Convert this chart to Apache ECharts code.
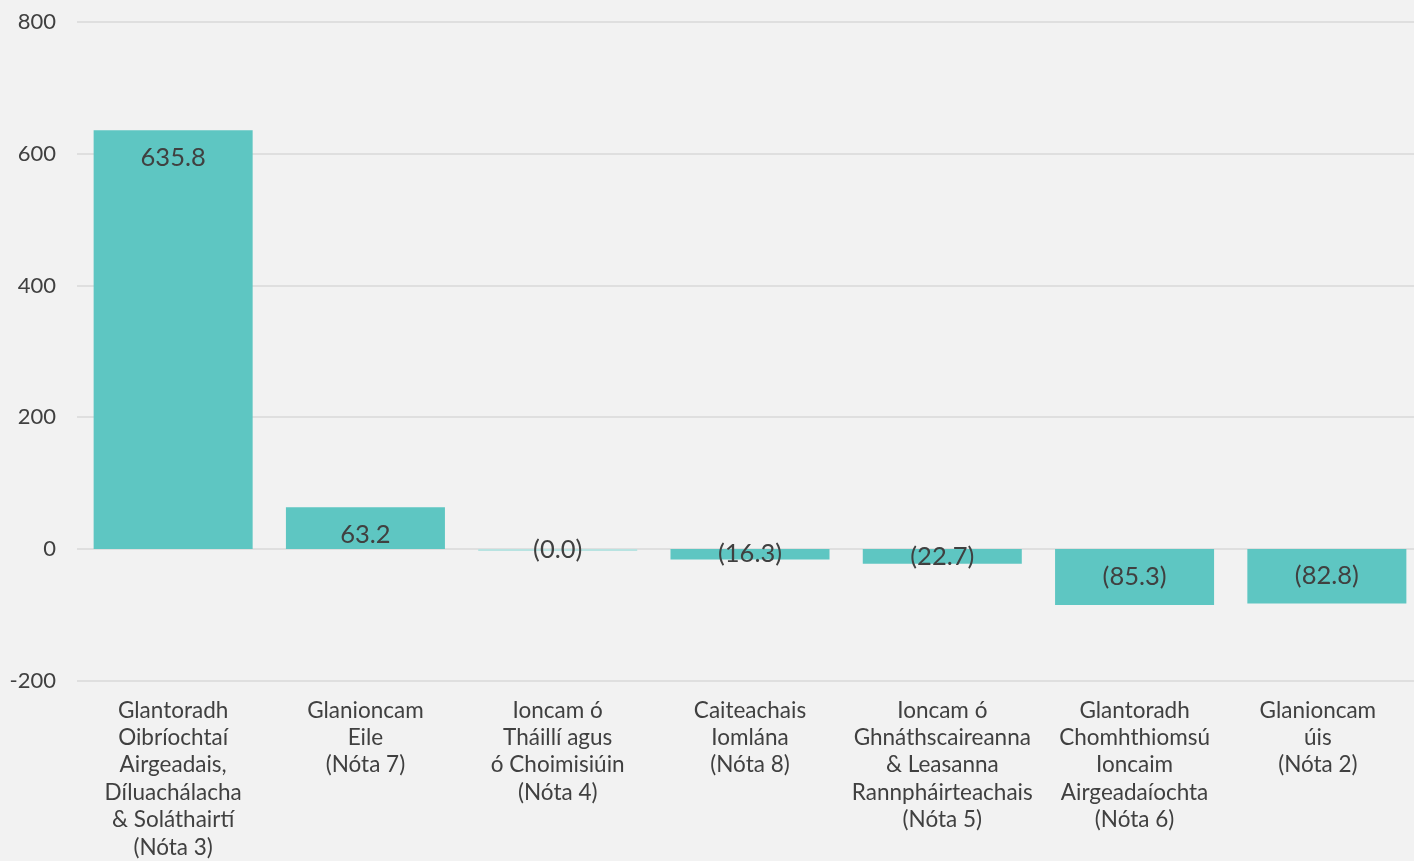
<!DOCTYPE html>
<html>
<head>
<meta charset="utf-8">
<script src="https://cdn.jsdelivr.net/npm/echarts@6/dist/echarts.min.js"></script>
<style>
  html, body { margin: 0; padding: 0; background: #f2f2f2; overflow: hidden; }
  #main { width: 1423px; height: 861px; }
</style>
</head>
<body>
<div id="main"></div>
<script>
var categories = [
    'Glantoradh\nOibríochtaí\nAirgeadais,\nDíluachálacha\n& Soláthairtí\n(Nóta 3)',
    'Glanioncam\nEile\n(Nóta 7)',
    'Ioncam ó\nTháillí agus\nó Choimisiúin\n(Nóta 4)',
    'Caiteachais\nIomlána\n(Nóta 8)',
    'Ioncam ó\nGhnáthscaireanna\n& Leasanna\nRannpháirteachais\n(Nóta 5)',
    'Glantoradh\nChomhthiomsú\nIoncaim\nAirgeadaíochta\n(Nóta 6)',
    'Glanioncam\núis\n(Nóta 2)'
];
var values = [635.8, 63.2, -0.04, -16.3, -22.7, -85.3, -82.8];
var yTicks = { min: -200, max: 800, interval: 200 };

var myChart = echarts.init(document.getElementById('main'));

// etiketí: diúltacha idir lúibíní
function fmt(v) {
    var s = Math.abs(v).toFixed(1);
    return v < 0 ? '(' + s + ')' : s;
}

var barData = values.map(function (v) {
    return {
        value: v,
        itemStyle: Math.abs(v) < 0.5 ? { color: '#b8e3e1' } : undefined,
        label: v >= 0
            ? { position: 'insideTop', distance: 15 }
            : { position: 'inside' }
    };
});

// an lipéad deireanach brúite isteach beagán, mar atá sa bhunchairt
var catData = categories.map(function (c, i) {
    return i === categories.length - 1
        ? { value: c, textStyle: { padding: [0, 18, 0, 0] } }
        : c;
});

var option = {
    backgroundColor: '#f2f2f2',
    textStyle: { fontFamily: 'Lato' },
    grid: { left: 77, right: 0, top: 22, bottom: 171 },
    xAxis: {
        type: 'category',
        data: catData,
        position: 'bottom',
        axisLine: { show: false },
        axisTick: { show: false },
        axisLabel: {
            interval: 0,
            margin: 16,
            color: '#404040',
            fontSize: 22.5,
            lineHeight: 27.4,
            fontFamily: 'Lato'
        }
    },
    yAxis: {
        type: 'value',
        min: yTicks.min,
        max: yTicks.max,
        interval: yTicks.interval,
        axisLine: { show: false },
        axisTick: { show: false },
        axisLabel: {
            margin: 21,
            color: '#404040',
            fontSize: 22,
            fontFamily: 'Lato'
        },
        splitLine: { lineStyle: { color: '#d9d9d9', width: 1.5 } }
    },
    series: [{
        type: 'bar',
        data: barData,
        barCategoryGap: '17.3%',
        barMinHeight: 2,
        itemStyle: { color: '#5ec6c2' },
        label: {
            show: true,
            color: '#404040',
            fontSize: 25.5,
            fontFamily: 'Lato',
            formatter: function (p) { return fmt(p.value); }
        }
    }]
};
myChart.setOption(option);
</script>
</body>
</html>
